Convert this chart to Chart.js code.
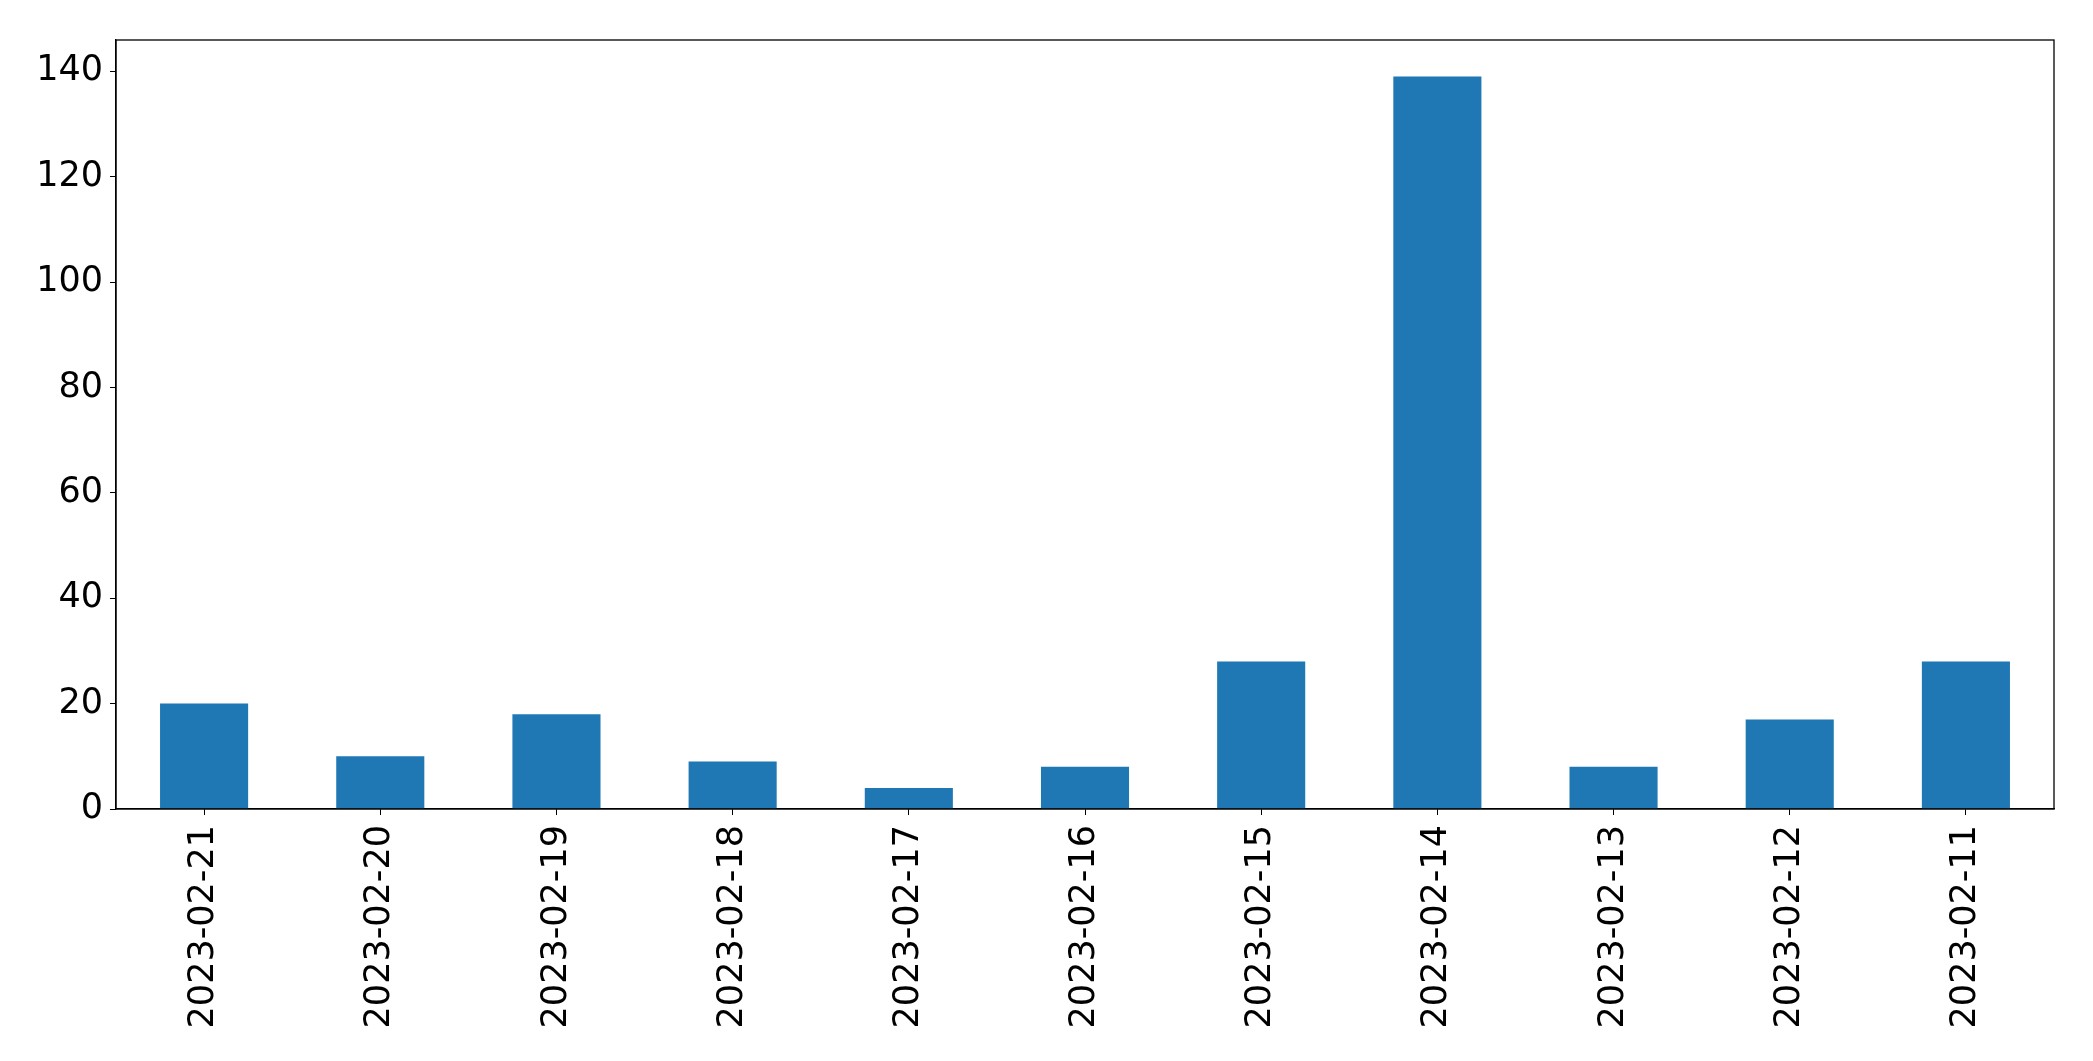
<!DOCTYPE html>
<html>
<head>
<meta charset="utf-8">
<script src="https://cdn.jsdelivr.net/npm/chart.js@4"></script>
<style>
  html, body { margin: 0; padding: 0; background: #fff; }
  canvas { display: block; }
</style>
</head>
<body>
<canvas id="barChart" width="2093" height="1061"></canvas>
<script>
// data
const dates = ['2023-02-21', '2023-02-20', '2023-02-19', '2023-02-18', '2023-02-17', '2023-02-16',
               '2023-02-15', '2023-02-14', '2023-02-13', '2023-02-12', '2023-02-11'];
const counts = [20, 10, 18, 9, 4, 8, 28, 139, 8, 17, 28];
const yTicks = [0, 20, 40, 60, 80, 100, 120, 140];

const barColor = '#1f77b4';
const fontSpec = { family: '"DejaVu Sans", sans-serif', size: 35 };

// full box around the plot, like matplotlib
const frame = {
    id: 'frame',
    afterDraw(chart) {
        const a = chart.chartArea, c = chart.ctx;
        c.save();
        c.strokeStyle = '#000';
        c.lineWidth = 1.3;
        c.strokeRect(a.left, a.top, a.right - a.left, a.bottom - a.top);
        c.restore();
    }
};

new Chart(document.getElementById('barChart'), {
    type: 'bar',
    data: {
        labels: dates,
        datasets: [{
            data: counts,
            backgroundColor: barColor,
            borderWidth: 0,
            categoryPercentage: 1,
            barPercentage: 0.5
        }]
    },
    options: {
        responsive: false,
        animation: false,
        devicePixelRatio: 1,
        layout: { padding: { top: 40, right: 39, left: 0, bottom: 0 } },
        plugins: { legend: { display: false }, tooltip: { enabled: false } },
        scales: {
            x: {
                offset: true,
                grid: { display: true, offset: false, drawOnChartArea: false, drawTicks: true, tickLength: 6, color: '#000', lineWidth: 1 },
                border: { display: true, color: '#000', width: 1.3 },
                ticks: { color: '#000', font: fontSpec, minRotation: 90, maxRotation: 90, padding: 10, autoSkip: false },
                afterFit(s) { s.height = 252; }
            },
            y: {
                min: 0,
                max: 145.95,
                grid: { display: true, drawOnChartArea: false, drawTicks: true, tickLength: 6, color: '#000', lineWidth: 1 },
                border: { display: true, color: '#000', width: 1.3 },
                ticks: { color: '#000', font: fontSpec, padding: 7, stepSize: 20 },
                afterBuildTicks(s) { s.ticks = yTicks.map(v => ({ value: v })); },
                afterFit(s) { s.width = 116; }
            }
        }
    },
    plugins: [frame]
});
</script>
</body>
</html>
